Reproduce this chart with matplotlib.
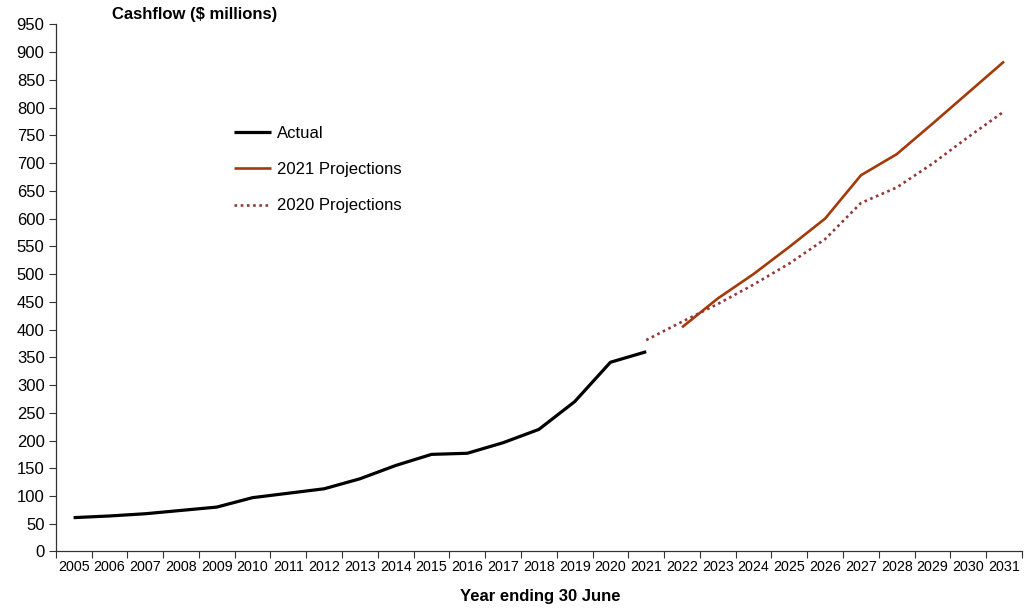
import numpy as np
import matplotlib
matplotlib.use("Agg")
import matplotlib.pyplot as plt

plt.rcParams['font.family'] = ['Liberation Sans', 'DejaVu Sans']

years = list(range(2005, 2032))
year_labels = [str(y) for y in years]

actual_years = list(range(2005, 2022))
actual = [61, 64, 68, 74, 80, 97, 105, 113, 131, 155, 175, 177, 196, 220, 270, 341, 360]

proj2021_years = list(range(2022, 2032))
proj2021 = [404, 456, 500, 549, 600, 678, 716, 771, 827, 883]

proj2020_years = list(range(2021, 2032))
proj2020 = [381, 414, 446, 481, 519, 563, 628, 656, 699, 747, 793]

yticks = list(range(0, 951, 50))

fig = plt.figure(figsize=(10.26, 6.11), dpi=100)
ax = fig.add_axes([0.0543, 0.0974, 0.9418, 0.8628])

def pos(yrs):
    return [years.index(y) for y in yrs]

ax.plot(pos(actual_years), actual, color='black', lw=2.3, label='Actual',
        solid_capstyle='butt')
ax.plot(pos(proj2021_years), proj2021, color='#A33A08', lw=1.9,
        label='2021 Projections', solid_capstyle='butt')
ax.plot(pos(proj2020_years), proj2020, color='#953737', lw=1.9,
        linestyle=(0, (1, 1.35)), label='2020 Projections')

ax.set_xlim(-0.5, len(years) - 0.5)
ax.set_ylim(0, 950)

# category axis: tick marks between categories, labels centred on them
ax.set_xticks(np.arange(-0.5, len(years), 1.0))
ax.set_xticklabels([])
ax.set_xticks(np.arange(len(years)), minor=True)
ax.set_xticklabels(year_labels, minor=True, fontsize=10.3)
ax.tick_params(axis='x', which='major', direction='out', length=5, width=0.8,
               color='#333333')
ax.tick_params(axis='x', which='minor', length=0, pad=6)

ax.set_yticks(yticks)
ax.set_yticklabels([str(v) for v in yticks], fontsize=12)
ax.tick_params(axis='y', direction='out', length=5, width=0.8, color='#333333',
               pad=3)

for s in ['top', 'right']:
    ax.spines[s].set_visible(False)
for s in ['left', 'bottom']:
    ax.spines[s].set_color('#333333')
    ax.spines[s].set_linewidth(0.9)

fig.text(112 / 1026, 1 - 15 / 611, 'Cashflow ($ millions)', fontsize=12,
         fontweight='bold', ha='left', va='center')
fig.text(540 / 1026, 1 - 597 / 611, 'Year ending 30 June', fontsize=12,
         fontweight='bold', ha='center', va='center')

leg = ax.legend(loc='upper left', bbox_to_anchor=(172 / 966, 1 - 95 / 527),
                frameon=False, fontsize=12, handlelength=2.2,
                handletextpad=0.33, labelspacing=1.27, borderaxespad=0)

fig.savefig('out.png', dpi=100)
